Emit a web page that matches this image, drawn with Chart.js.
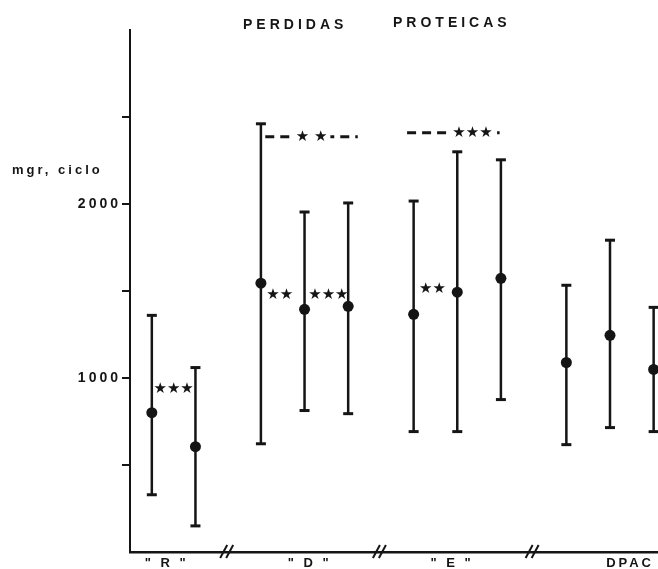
<!DOCTYPE html>
<html><head><meta charset="utf-8">
<script src="https://cdn.jsdelivr.net/npm/chart.js@4.4.0/dist/chart.umd.min.js"></script>
<style>html,body{margin:0;padding:0;background:#fff}#wrap{width:658px;height:569px;position:relative}</style>
</head><body><div id="wrap"><canvas id="c"></canvas></div>
<script>
// ---- data ----
const categories = ['" R "', '" D "', '" E "', 'DPAC'];
const groupIndex = [0, 0, 1, 1, 1, 2, 2, 2, 3, 3, 3];
const means = [801, 605, 1545, 1395, 1412, 1366, 1493, 1573, 1089, 1245, 1049];
const upper = [1360, 1060, 2461, 1954, 2006, 2017, 2300, 2254, 1533, 1792, 1406];
const lower = [329, 150, 622, 813, 795, 692, 692, 876, 617, 715, 692];
const yTickValues = [1000, 2000];
const yTickLabels = ['1000', '2000'];
const titleWords = ['PERDIDAS', 'PROTEICAS'];
const yUnitLabel = 'mgr, ciclo';
const sigLabels = ['★★★', '★★', '★★★', '★ ★', '★★', '★★★', '★'];

// ---- derived structures ----
const xPos = groupIndex.map((g, i) => i + 0.5 * g);
const whisker = [];
xPos.forEach((x, i) => { whisker.push({x, y: lower[i]}, {x, y: upper[i]}, {x, y: null}); });
const caps = [];
xPos.forEach((x, i) => { caps.push({x, y: upper[i]}, {x, y: lower[i]}); });
const meanPts = xPos.map((x, i) => ({x, y: means[i]}));
const groupBreaks = [];
for (let i = 1; i < xPos.length; i++) if (groupIndex[i] !== groupIndex[i-1]) groupBreaks.push((xPos[i] + xPos[i-1]) / 2);

const INK = '#151515';
const FONT = '"Liberation Sans", Arial, sans-serif';

const decor = {
  id: 'decor',
  beforeLayout(chart) { chart.ctx.letterSpacing = '3px'; },
  beforeDraw(chart) { chart.ctx.letterSpacing = '3px'; },
  afterDraw(chart, args, opts) {
    const ctx = chart.ctx, xs = chart.scales.x, ys = chart.scales.y;
    ctx.save();
    ctx.fillStyle = INK; ctx.strokeStyle = INK;
    // title
    ctx.letterSpacing = '4px';
    ctx.font = 'bold 14px ' + FONT;
    ctx.textBaseline = 'middle'; ctx.textAlign = 'left';
    ctx.fillText(titleWords[0], 243, 25);
    ctx.fillText(titleWords[1], 393, 23);
    // unit label
    ctx.letterSpacing = '3px';
    ctx.font = 'bold 13px ' + FONT;
    ctx.fillText(yUnitLabel, 12, 170);
    // axis break marks
    ctx.letterSpacing = '0px';
    ctx.lineWidth = 2;
    const yb = xs.top;
    groupBreaks.forEach(v => {
      const px = xs.getPixelForValue(v);
      for (let k = 0; k < 2; k++) {
        const o = px - 6 + k * 6;
        ctx.beginPath(); ctx.moveTo(o - 2, yb + 6); ctx.lineTo(o + 5, yb - 7); ctx.stroke();
      }
    });
    // dashed brackets
    opts.brackets.forEach(b => {
      const y = ys.getPixelForValue(b.y);
      ctx.setLineDash([9, 6]); ctx.lineWidth = 3;
      ctx.beginPath(); ctx.moveTo(xs.getPixelForValue(b.x1), y); ctx.lineTo(xs.getPixelForValue(b.x2), y); ctx.stroke();
      ctx.setLineDash([]);
      ctx.font = '15px "DejaVu Sans", sans-serif';
      const tx = xs.getPixelForValue(b.xt);
      const w = ctx.measureText(sigLabels[b.label]).width;
      ctx.fillStyle = '#fff'; ctx.fillRect(tx - w/2 - 3, y - 8, w + 6, 16);
      ctx.fillStyle = INK; ctx.textAlign = 'center';
      ctx.fillText(sigLabels[b.label], tx, y);
    });
    // star marks between points
    ctx.font = '15px "DejaVu Sans", sans-serif';
    ctx.textAlign = 'center';
    opts.marks.forEach(m => {
      const tx = (xs.getPixelForValue(xPos[m.from]) + xs.getPixelForValue(xPos[m.to])) / 2 + (m.dx || 0);
      ctx.fillText(sigLabels[m.label], tx, ys.getPixelForValue(m.y));
    });
    ctx.restore();
  }
};

new Chart(document.getElementById('c'), {
  type: 'scatter',
  data: {
    datasets: [
      { type: 'line', data: whisker, borderColor: INK, borderWidth: 2.5, pointRadius: 0, spanGaps: false, fill: false },
      { data: caps, pointStyle: 'line', pointRadius: 5, pointBorderWidth: 3, borderColor: INK, backgroundColor: INK },
      { data: meanPts, pointStyle: 'circle', pointRadius: 5.5, pointBorderWidth: 0, backgroundColor: INK, borderColor: INK }
    ]
  },
  options: {
    responsive: true, maintainAspectRatio: false, animation: false,
    layout: { autoPadding: false, padding: { top: 30, right: 0, left: 0, bottom: 0 } },
    plugins: {
      legend: { display: false }, tooltip: { enabled: false },
      decor: {
        marks: [
          { from: 0, to: 1, label: 0, y: 934 },
          { from: 2, to: 3, label: 1, y: 1475, dx: -3 },
          { from: 3, to: 4, label: 2, y: 1475, dx: 2 },
          { from: 5, to: 6, label: 4, y: 1510, dx: -3 },
          { from: 10, to: 11, label: 6, y: 1245 }
        ],
        brackets: [
          { x1: 2.6, x2: 4.72, xt: 3.66, y: 2386, label: 3 },
          { x1: 5.85, x2: 7.97, xt: 7.35, y: 2409, label: 5 }
        ]
      }
    },
    scales: {
      x: {
        type: 'linear', min: -0.5, max: 11.6,
        afterFit(s) { s.height = 17; s.paddingLeft = 0; s.paddingRight = 0; },
        afterBuildTicks(s) {
          const at = [0.34, 3.62, 6.88, 10.96];
          s.ticks = at.map(v => ({ value: v }));
        },
        ticks: { autoSkip: false, maxRotation: 0, padding: 4, color: INK,
          font: { family: FONT, size: 13, weight: 'bold' },
          callback: (v, i) => categories[i] },
        grid: { display: false, drawTicks: false },
        border: { display: true, color: INK, width: 2.5 }
      },
      y: {
        type: 'linear', min: 0, max: 3000,
        afterFit(s) { s.width = 130; s.paddingTop = 0; s.paddingBottom = 0; },
        ticks: { stepSize: 500, padding: 1, color: INK,
          font: { family: FONT, size: 14, weight: 'bold' },
          callback: (v) => { const k = yTickValues.indexOf(v); return k >= 0 ? yTickLabels[k] : ''; } },
        grid: { drawOnChartArea: false, tickLength: 8, lineWidth: 2,
          color: (c) => (c.tick && c.tick.value > 0 && c.tick.value < 3000) ? INK : 'rgba(0,0,0,0)' },
        border: { display: true, color: INK, width: 2 }
      }
    }
  },
  plugins: [decor]
});
</script>
</body></html>
